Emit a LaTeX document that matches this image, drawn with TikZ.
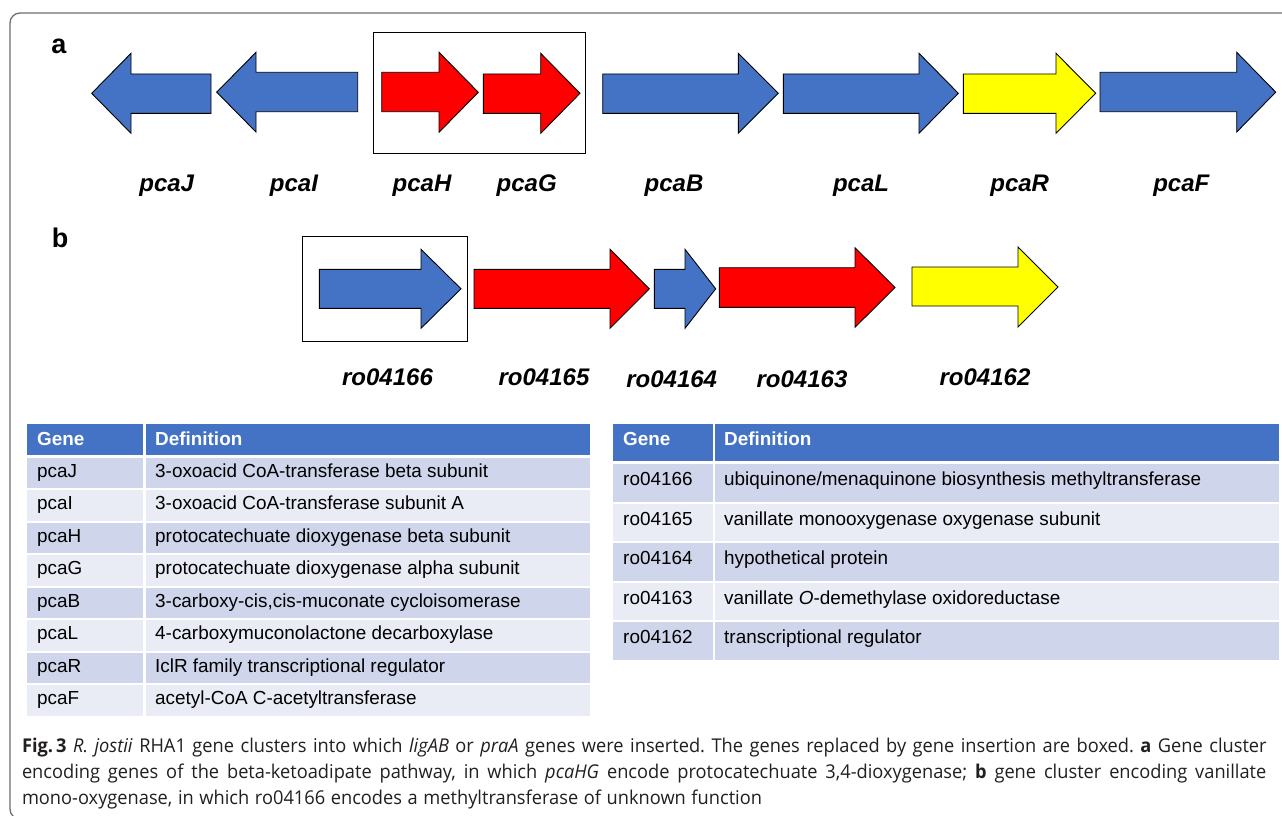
\documentclass[tikz,border=0pt]{standalone}
\usepackage{fontspec}
\setmainfont{Liberation Sans}
\newfontfamily\capfont[FakeStretch=0.96]{Open Sans}
\definecolor{gblue}{HTML}{4472C4}
\definecolor{gred}{HTML}{FF0000}
\definecolor{gyellow}{HTML}{FFFF00}
\definecolor{rowdark}{HTML}{CFD5EA}
\definecolor{rowlight}{HTML}{E9EBF5}
\definecolor{framegray}{HTML}{6E6E6E}
\definecolor{captext}{HTML}{231F20}
% arrow: color, x-start, x-headbase, x-tip, shaft top, shaft bottom, head top, head bottom
\newcommand{\genearr}[8]{\draw[genearrow,fill=#1] (#2,#5) -- (#3,#5) -- (#3,#7) -- (#4,{(#7+#8)/2}) -- (#3,#8) -- (#3,#6) -- (#2,#6) -- cycle;}
% caption words
\newcommand{\capwordsA}{{\textbf{Fig.\,3}},{\textit{R.}},{\textit{jostii}},RHA1,gene,clusters,into,which,{\textit{ligAB}},or,{\textit{praA}},genes,were,inserted.,The,genes,replaced,by,gene,insertion,are,boxed.,{\textbf{a}},Gene,cluster}
\newcommand{\capwordsB}{encoding,genes,of,the,beta-ketoadipate,{pathway,},in,which,{\textit{pcaHG}},encode,protocatechuate,{3,4-dioxygenase;},{\textbf{b}},gene,cluster,encoding,vanillate}
\newcommand{\capwordsC}{{mono-oxygenase,},in,which,ro04166,encodes,a,methyltransferase,of,unknown,function}
\newbox\capbox
\newcount\capcount
\newdimen\capdim
% measure: #1 macro receiving gap, #2 target width (pt), #3 word list macro
\newcommand{\measurecap}[3]{%
  \global\setbox\capbox=\hbox{}\global\capcount=0
  \foreach \w in #3{\global\setbox\capbox=\hbox{\unhbox\capbox\capfont\fontsize{19pt}{26pt}\selectfont\w}\global\advance\capcount by 1\relax}%
  \capdim=#2pt\relax
  \advance\capdim by -\wd\capbox
  \global\advance\capcount by -1\relax
  \divide\capdim by \capcount
  \ifdim\capdim<2pt \capdim=5pt\fi
  \ifdim\capdim>12pt \capdim=5pt\fi
  \xdef#1{\the\capdim}}
\AtBeginDocument{%
  \measurecap{\gapA}{1243}{\capwordsA}%
  \measurecap{\gapB}{1244}{\capwordsB}%
  \measurecap{\gapC}{740}{\capwordsC}}
% place: #1 prefix, #2 x, #3 y, #4 gap, #5 word list macro
\newcommand{\placecap}[5]{%
  \foreach \w [count=\i] in #5{%
    \ifnum\i=1 \node[captionline] (#1\i) at (#2,#3) {\w};%
    \else \pgfmathtruncatemacro{\j}{\i-1}\node[captionline] (#1\i) at ([xshift=#4]#1\j.base east) {\w};\fi}}
\begin{document}
\begin{tikzpicture}[x=1pt,y=-1pt,
  genearrow/.style={draw=black,line width=0.9pt,line join=miter},
  boxframe/.style={draw=black,line width=0.9pt},
  glabel/.style={anchor=base,inner sep=0pt,font=\fontsize{24pt}{28pt}\selectfont\bfseries\itshape},
  panel/.style={anchor=base,inner sep=0pt,font=\fontsize{27pt}{30pt}\selectfont\bfseries},
  ttext/.style={anchor=base west,inner sep=0pt,font=\fontsize{18.9pt}{22pt}\selectfont},
  thead/.style={anchor=base west,inner sep=0pt,text=white,font=\fontsize{18.9pt}{22pt}\selectfont\bfseries},
  captionline/.style={anchor=base west,inner sep=0pt,outer sep=0pt,text=captext,font=\capfont\fontsize{19pt}{26pt}\selectfont},
]
\useasboundingbox (0,0) rectangle (1282,816);
\clip (0,0) rectangle (1282,816);
\fill[white] (0,0) rectangle (1282,816);
% outer frame
\draw[framegray,line width=1.3pt,rounded corners=10pt] (10,13) rectangle (1300,819);

% panel labels
\node[panel] (pa) at (59,53) {a};
\node[panel] (pb) at (60,247.5) {b};

% ---- cluster a ----
\draw[boxframe] (373.3,32.3) rectangle (585.3,153.3);
\genearr{gblue}{211}{131}{91.7}{74}{113.3}{53.3}{133.3}
\genearr{gblue}{357.7}{256}{216.7}{72.3}{111.7}{52.3}{132}
\genearr{gred}{381.7}{439}{478.3}{72.3}{111.7}{52.3}{132.3}
\genearr{gred}{483.3}{540.7}{580}{74}{113.3}{53.3}{133.3}
\genearr{gblue}{602.7}{738.3}{778.3}{74}{113.3}{53.3}{133.3}
\genearr{gblue}{783.3}{919}{958.3}{74}{113.3}{53.3}{133.3}
\genearr{gyellow}{963.3}{1056}{1095.7}{74}{113.3}{53.3}{133.3}
\genearr{gblue}{1100}{1236.7}{1275.7}{72.3}{111.7}{52.3}{132}

\node[glabel] (lJ) at (166.7,191) {pcaJ};
\node[glabel] (lI) at (294,191) {pcaI};
\node[glabel] (lH) at (422,191) {pcaH};
\node[glabel] (lG) at (526.7,191) {pcaG};
\node[glabel] (lB) at (674,191) {pcaB};
\node[glabel] (lL) at (861,191) {pcaL};
\node[glabel] (lR) at (1019.7,191) {pcaR};
\node[glabel] (lF) at (1181.3,191) {pcaF};

% ---- cluster b ----
\draw[boxframe] (302.7,236.7) rectangle (467.3,341.7);
\genearr{gblue}{319.3}{421}{461}{269.3}{308.3}{249.3}{328.3}
\genearr{gred}{474}{610}{649.3}{269.3}{308.3}{249.3}{328.3}
\genearr{gblue}{654.3}{685}{715.7}{269.3}{308.3}{249.3}{328.3}
\genearr{gred}{719.3}{855}{895}{267.7}{307.3}{247.7}{327.3}
\genearr{gyellow}{912}{1018}{1058}{267}{306}{247}{327}

\node[glabel] (l66) at (387.5,385.5) {ro04166};
\node[glabel] (l65) at (544,385.5) {ro04165};
\node[glabel] (l64) at (671.7,387.5) {ro04164};
\node[glabel] (l63) at (802,387) {ro04163};
\node[glabel] (l62) at (985,385.5) {ro04162};

% ---- left table ----
\fill[gblue] (27,424) rectangle (590,454.5);
\foreach \i/\c in {0/rowdark,1/rowlight,2/rowdark,3/rowlight,4/rowdark,5/rowlight,6/rowdark,7/rowlight}{
  \fill[\c] (27,{457.5+32.5*\i}) rectangle (590,{488+32.5*\i});
}
\draw[white,line width=2.2pt] (144.5,423) -- (144.5,717);
\node[thead] (tlh1) at (37,445.5) {Gene};
\node[thead] (tlh2) at (155,445.5) {Definition};
\node[ttext] (tl1a) at (37,477) {pcaJ};
\node[ttext] (tl1b) at (155,477) {3-oxoacid CoA-transferase beta subunit};
\node[ttext] (tl2a) at (37,509.5) {pcaI};
\node[ttext] (tl2b) at (155,509.5) {3-oxoacid CoA-transferase subunit A};
\node[ttext] (tl3a) at (37,542) {pcaH};
\node[ttext] (tl3b) at (155,542) {protocatechuate dioxygenase beta subunit};
\node[ttext] (tl4a) at (37,574.5) {pcaG};
\node[ttext] (tl4b) at (155,574.5) {protocatechuate dioxygenase alpha subunit};
\node[ttext] (tl5a) at (37,607) {pcaB};
\node[ttext] (tl5b) at (155,607) {3-carboxy-cis,cis-muconate cycloisomerase};
\node[ttext] (tl6a) at (37,639.5) {pcaL};
\node[ttext] (tl6b) at (155,639.5) {4-carboxymuconolactone decarboxylase};
\node[ttext] (tl7a) at (37,672) {pcaR};
\node[ttext] (tl7b) at (155,672) {IclR family transcriptional regulator};
\node[ttext] (tl8a) at (37,704.5) {pcaF};
\node[ttext] (tl8b) at (155,704.5) {acetyl-CoA C-acetyltransferase};

% ---- right table ----
\fill[gblue] (613,424) rectangle (1279,461);
\foreach \i/\c in {0/rowdark,1/rowlight,2/rowdark,3/rowlight,4/rowdark}{
  \fill[\c] (613,{464+39.5*\i}) rectangle (1279,{501.5+39.5*\i});
}
\draw[white,line width=2.2pt] (714,423) -- (714,661);
\node[thead] (trh1) at (623,445.5) {Gene};
\node[thead] (trh2) at (724,445.5) {Definition};
\node[ttext] (tr1a) at (623,485.5) {ro04166};
\node[ttext] (tr1b) at (724,485.5) {ubiquinone/menaquinone biosynthesis methyltransferase};
\node[ttext] (tr2a) at (623,525) {ro04165};
\node[ttext] (tr2b) at (724,525) {vanillate monooxygenase oxygenase subunit};
\node[ttext] (tr3a) at (623,564.5) {ro04164};
\node[ttext] (tr3b) at (724,564.5) {hypothetical protein};
\node[ttext] (tr4a) at (623,604) {ro04163};
\node[ttext] (tr4b) at (724,604) {vanillate \textit{O}-demethylase oxidoreductase};
\node[ttext] (tr5a) at (623,643.5) {ro04162};
\node[ttext] (tr5b) at (724,643.5) {transcriptional regulator};

% ---- caption ----
\placecap{ca}{22}{752.5}{\gapA}{\capwordsA}
\placecap{cb}{22}{778.5}{\gapB}{\capwordsB}
\placecap{cc}{22}{804.5}{\gapC}{\capwordsC}
\end{tikzpicture}
\end{document}
